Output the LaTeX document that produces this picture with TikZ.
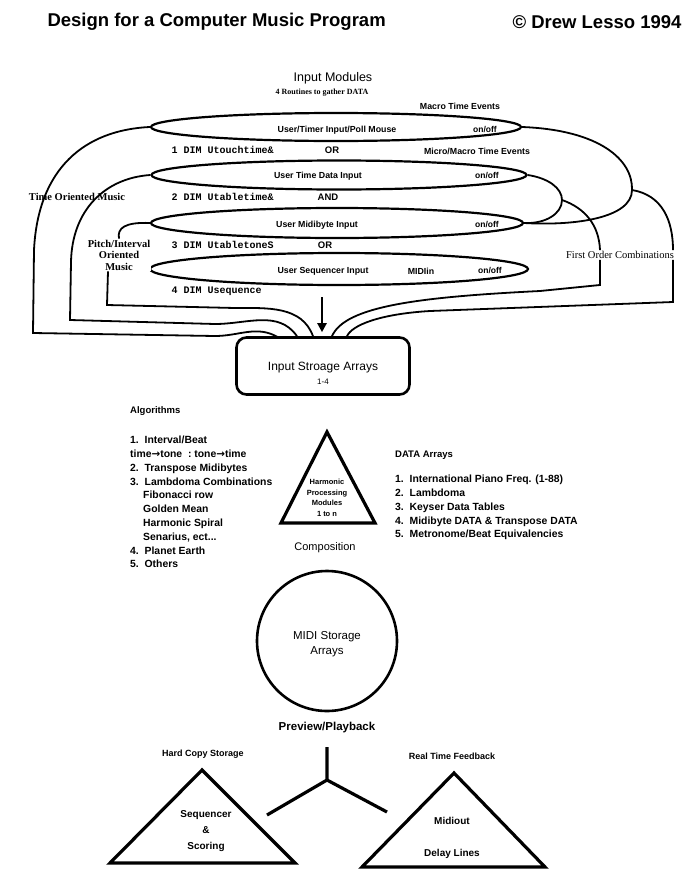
\documentclass[tikz,border=0pt]{standalone}
\usepackage{fontspec}
\setmainfont{Liberation Sans}
\newfontfamily\oldserif{Liberation Serif}
\newfontfamily\symfont{DejaVu Sans}
\setmonofont{Liberation Mono}
\usetikzlibrary{arrows.meta,positioning,calc,shapes.geometric}

\begin{document}
\begin{tikzpicture}[x=1pt, y=1pt,
    lens/.style={ellipse, draw, line width=2.2pt, inner sep=0pt,
        minimum height=#1},
    modtext/.style={font=\bfseries\fontsize{8.8}{9}\selectfont},
    onoff/.style={font=\bfseries\fontsize{8.5}{9}\selectfont},
    dimtext/.style={font=\ttfamily\bfseries\fontsize{10}{11}\selectfont,
        anchor=west},
    logic/.style={font=\bfseries\fontsize{9.5}{10}\selectfont},
    evtext/.style={font=\bfseries\fontsize{8.8}{9}\selectfont},
    grouptext/.style={font=\oldserif\bfseries\fontsize{10.5}{11.5}\selectfont,
        align=center, inner sep=1pt},
    wire/.style={line width=1.8pt},
    bigarrow/.style={-{Triangle[length=9pt,width=9pt]}, line width=2.6pt},
    listtext/.style={font=\bfseries\fontsize{10.4}{13.8}\selectfont,
        align=left, anchor=north west, inner sep=0pt},
    headtext/.style={font=\bfseries\fontsize{9.5}{11}\selectfont,
        anchor=west, inner sep=0pt},
    tri/.style={line width=3.2pt, line join=miter},
    trilabel/.style={font=\bfseries\fontsize{10}{12}\selectfont},
    outhead/.style={font=\bfseries\fontsize{9}{11}\selectfont},
]

\useasboundingbox (0,0) rectangle (700,-886);

% Heading
\node[font=\bfseries\fontsize{18.5}{20}\selectfont, anchor=west] (title)
    at (44,-22) {Design for a Computer Music Program};
\node[font=\bfseries\fontsize{18.5}{20}\selectfont, anchor=east] (copy)
    at (685,-22) {© Drew Lesso 1994};

% Input modules
\node[font=\fontsize{12.5}{14}\selectfont] (inmod) at (333,-78) {Input Modules};
\node[font=\oldserif\bfseries\fontsize{8}{9}\selectfont] (routines)
    at (322,-93) {4 Routines to gather DATA};
\node[evtext] (macro) at (460,-106) {Macro Time Events};

\node[lens=28, minimum width=370] (e1) at (336,-127) {};
\node[lens=29, minimum width=375] (e2) at (339,-175) {};
\node[lens=30, minimum width=372] (e3) at (337,-223) {};
\node[lens=32, minimum width=378] (e4) at (339,-269) {};

\node[modtext] at (337,-130) {User/Timer Input/Poll Mouse};
\node[modtext] at (318,-176) {User Time Data Input};
\node[modtext] at (317,-225) {User Midibyte Input};
\node[modtext] at (323,-271) {User Sequencer Input};
\node[modtext] at (421,-271) {MIDIin};
\node[onoff] at (485,-130) {on/off};
\node[onoff] at (487,-176) {on/off};
\node[onoff] at (487,-225) {on/off};
\node[onoff] at (490,-271) {on/off};

\node[dimtext] at (168,-150) {1 DIM Utouchtime\&};
\node[dimtext] at (168,-197) {2 DIM Utabletime\&};
\node[dimtext] at (168,-245) {3 DIM UtabletoneS};
\node[dimtext] at (168,-291) {4 DIM Usequence};
\node[logic] at (332,-150) {OR};
\node[logic] at (328,-197) {AND};
\node[logic] at (325,-245) {OR};
\node[evtext] (micro) at (477,-151) {Micro/Macro Time Events};

% Storage box
\node[draw, rounded corners=10pt, line width=2.6pt, minimum width=173,
    minimum height=57] (isa) at (323,-366) {};
\node[font=\fontsize{12}{13}\selectfont] at (323,-368) {Input Stroage Arrays};
\node[font=\fontsize{8}{9}\selectfont] at (323,-382) {1-4};

% Left combinations
\coordinate (l1bend) at (33,-333);
\coordinate (l2bend) at (70,-320);
\coordinate (l3bend) at (107,-305);
\draw[wire] (e1.west) .. controls (85,-130) and (38,-168) .. (34,-250)
    -- (l1bend) -- (215,-336) to[out=0,in=150] ([xshift=-45,yshift=-1]isa.north);
\draw[wire] (e2.west) .. controls (105,-178) and (72,-210) .. (71,-262)
    -- (l2bend) -- (215,-324) to[out=0,in=125] ([xshift=-26]isa.north);
\node[grouptext, fill=white] (pitch) at (119,-255)
    {Pitch/Interval\\Oriented\\Music};
\draw[wire] (e3.west) .. controls (125,-222) and (117,-228) .. (pitch.north);
\draw[wire] ([xshift=-11]pitch.south) -- (l3bend) -- (235,-308)
    to[out=0,in=110] ([xshift=-10]isa.north);
\node[grouptext] (timeor) at (77,-197) {Time Oriented Music};

% Right combinations
\coordinate (j1) at (632,-190);
\coordinate (j2) at (562,-200);
\coordinate (r3bend) at (600,-285);
\coordinate (r4bend) at (673,-302);
\draw[wire] (e1.east) .. controls (600,-130) and (633,-160) .. (j1)
    .. controls (632,-218) and (575,-226) .. (e3.east);
\draw[wire] (e2.east) .. controls (548,-178) and (562,-188) .. (j2)
    .. controls (562,-214) and (545,-224) .. (e3.east);
\node[grouptext, font=\oldserif\fontsize{10.5}{12}\selectfont, fill=white]
    (first) at (620,-255) {First Order Combinations};
\draw[wire] (j2) .. controls (585,-208) and (599,-225) .. ([xshift=-20]first.north);
\draw[wire] (j1) .. controls (662,-195) and (673,-220) .. ([xshift=53]first.north);
\draw[wire] ([xshift=-20]first.south) -- (r3bend) -- (540,-291)
    .. controls (420,-297) and (345,-306) .. ([xshift=9]isa.north);
\draw[wire] ([xshift=53]first.south) -- (r4bend) -- (430,-311)
    .. controls (380,-314) and (352,-325) .. ([xshift=24]isa.north);

% Main arrow
\coordinate (arrtop) at (322,-297);
\draw[bigarrow] (arrtop) -- ([xshift=-1,yshift=4]isa.north);

% Algorithms
\node[headtext] (algohead) at (130,-411) {Algorithms};
\node[listtext] (algo) at (130,-436)
    {1.\ \ Interval/Beat\\
     time{\symfont\bfseries →}tone\ \ :\ tone{\symfont\bfseries →}time\\
     2.\ \ Transpose Midibytes\\
     3.\ \ Lambdoma Combinations\\
     \hspace*{13pt}Fibonacci row\\
     \hspace*{13pt}Golden Mean\\
     \hspace*{13pt}Harmonic Spiral\\
     \hspace*{13pt}Senarius, ect...\\
     4.\ \ Planet Earth\\
     5.\ \ Others};

% Harmonic processing
\coordinate (h-top) at (327,-432);
\coordinate (h-left) at (281,-523);
\coordinate (h-right) at (375,-523);
\draw[tri] (h-left) -- (h-top) -- (h-right) -- cycle;
\node[font=\bfseries\fontsize{7.5}{10.5}\selectfont, align=center]
    (hpm) at (327,-498) {Harmonic\\Processing\\Modules\\1 to n};
\node[font=\fontsize{11}{12}\selectfont] (compo) at (325,-548) {Composition};

% DATA arrays
\node[headtext] (datahead) at (395,-455) {DATA Arrays};
\node[listtext] (data) at (395,-475)
    {1.\ \ International Piano Freq. (1-88)\\
     2.\ \ Lambdoma\\
     3.\ \ Keyser Data Tables\\
     4.\ \ Midibyte DATA \& Transpose DATA\\
     5.\ \ Metronome/Beat Equivalencies};

% MIDI storage
\node[circle, draw, line width=2.6pt, minimum size=140] (midi) at (327,-641) {};
\node[font=\fontsize{11.5}{15}\selectfont, align=center] at (327,-644)
    {MIDI Storage\\Arrays};
\node[font=\bfseries\fontsize{11.5}{13}\selectfont] (pp) at (327,-728)
    {Preview/Playback};

% Output split
\coordinate (ytop) at (327,-747);
\coordinate (yc) at (327,-780);
\coordinate (yl) at (267,-815);
\coordinate (yr) at (387,-812);
\draw[line width=3.2pt] (ytop) -- (yc) -- (yl);
\draw[line width=3.2pt] (yc) -- (yr);

% Output triangles
\node[outhead] (hard) at (203,-754) {Hard Copy Storage};
\coordinate (s-top) at (202,-770);
\coordinate (s-left) at (110,-863);
\coordinate (s-right) at (295,-863);
\draw[tri] (s-left) -- (s-top) -- (s-right) -- cycle;
\node[trilabel, align=center, font=\bfseries\fontsize{10}{16}\selectfont] (seq)
    at (206,-831) {Sequencer\\\&\\Scoring};

\node[outhead] (real) at (452,-756) {Real Time Feedback};
\coordinate (m-top) at (454,-773);
\coordinate (m-left) at (362,-867);
\coordinate (m-right) at (545,-867);
\draw[tri] (m-left) -- (m-top) -- (m-right) -- cycle;
\node[trilabel] (midiout) at (452,-821) {Midiout};
\node[trilabel] (delay) at (452,-854) {Delay Lines};

\end{tikzpicture}
\end{document}
